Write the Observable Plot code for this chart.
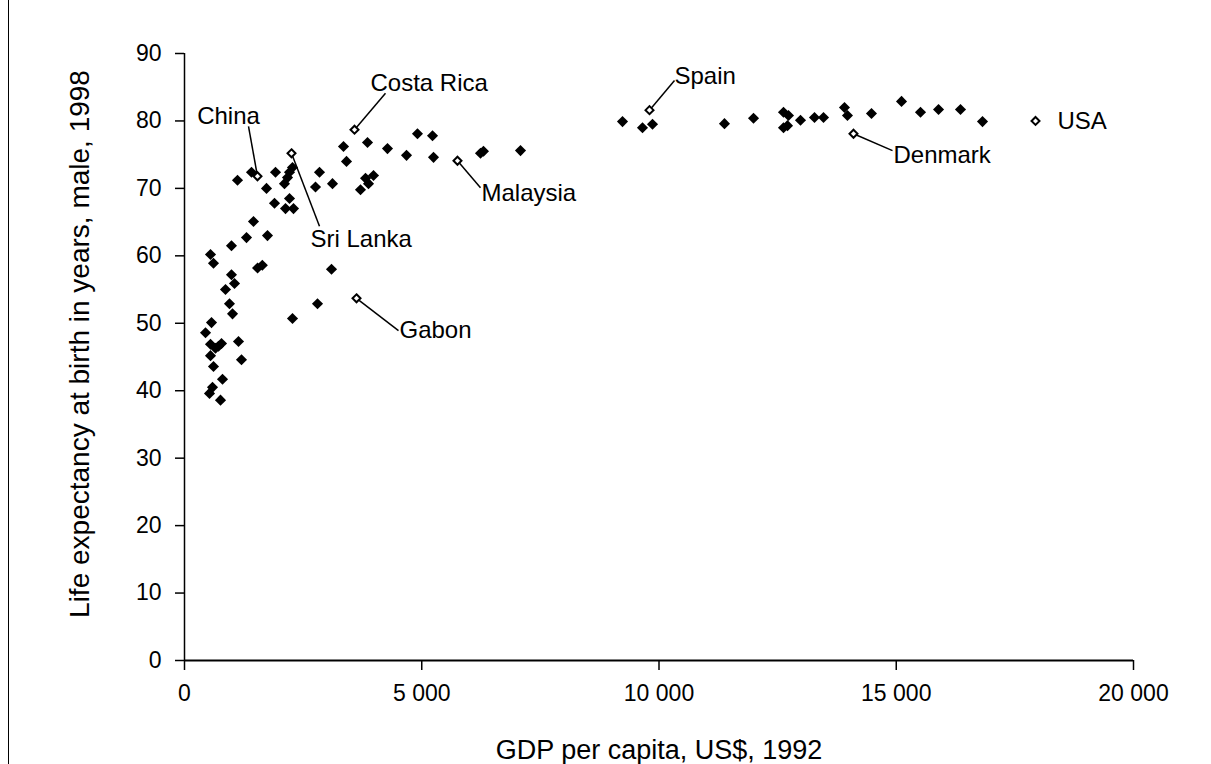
<!DOCTYPE html>
<html><head><meta charset="utf-8">
<script src="https://cdn.jsdelivr.net/npm/d3@7"></script>
<script src="https://cdn.jsdelivr.net/npm/@observablehq/plot@0.6"></script>
<style>
body{margin:0;background:#fff;}
#wrap{position:relative;width:1211px;height:764px;overflow:hidden;background:#fff;}
#frame{position:absolute;left:8px;top:0;width:1px;height:764px;background:#000;}
</style></head><body><div id="wrap"><div id="frame"></div></div>
<script>
// GDP per capita (US$, 1992) and male life expectancy (1998), unlabelled countries
const gdp = [443,569,548,717,780,653,1138,548,611,1201,801,590,527,759,2276,2803,3098,1540,1640,990,1054,864,948,1012,548,611,990,1307,1749,1454,1897,2213,2129,2297,1117,1412,1918,1728,2276,2213,2171,2107,2845,2761,3119,3351,3857,3414,4278,4679,4910,5227,5248,6238,6301,7081,3815,3983,3878,3709,
  9231,9652,9863,11380,11992,12624,12729,12708,12624,12982,13277,13467,13909,13972,14478,15111,15511,15891,16354,16818];
const life = [48.6,50.1,46.9,46.6,47.0,46.3,47.3,45.2,43.6,44.6,41.7,40.5,39.6,38.6,50.7,52.9,58.0,58.2,58.6,57.2,55.9,55.0,52.9,51.4,60.2,58.9,61.5,62.7,63.0,65.1,67.8,68.5,67.0,67.0,71.2,72.4,72.4,70.0,73.1,72.4,71.6,70.7,72.4,70.2,70.7,76.2,76.8,74.0,75.9,74.9,78.1,77.8,74.6,75.2,75.5,75.6,71.5,71.9,70.7,69.8,
  79.9,79.0,79.5,79.6,80.4,81.3,80.8,79.3,79.0,80.1,80.5,80.5,82.0,80.8,81.1,82.9,81.3,81.7,81.7,79.9];

// highlighted countries
const names = ["China","Sri Lanka","Costa Rica","Malaysia","Gabon","Spain","Denmark","USA"];
const namedGdp = [1538,2255,3583,5753,3625,9800,14099,17935];
const namedLife = [71.8,75.2,78.7,74.1,53.7,81.6,78.1,80.0];
// label placement (data units) and leader-line ends
const labelGdp = [927,2655,3920,6259,4531,10327,14942,18398];
const labelLife = [80.7,62.4,85.6,69.2,48.9,86.6,74.9,79.9];
const labelAnchor = ["middle","start","start","start","start","start","start","start"];
const leaderGdp = [1349,2845,4236,6238,4510,10327,14921,null];
const leaderLife = [79.2,64.4,84.1,70.1,48.9,86.0,75.6,null];

const xTicks = [0,5000,10000,15000,20000];
const yTicks = [0,10,20,30,40,50,60,70,80,90];
const xTitle = "GDP per capita, US$, 1992";
const yTitle = "Life expectancy at birth in years, male, 1998";

const points = gdp.map((g,i)=>({g, l: life[i]}));
const named = names.map((n,i)=>({n, g: namedGdp[i], l: namedLife[i], lg: labelGdp[i], ll: labelLife[i], a: labelAnchor[i], eg: leaderGdp[i], el: leaderLife[i]}));
const leaders = named.filter(d => d.eg != null);
const fmt = d => d3.format(",")(d).replace(/,/g, " ");

const chart = Plot.plot({
  width: 1211, height: 764,
  marginLeft: 184, marginRight: 78, marginTop: 53, marginBottom: 104,
  style: {fontFamily: "'Liberation Sans', Arial, sans-serif", fontSize: "23px", color: "#000", background: "transparent", overflow: "visible"},
  x: {domain: [0, 20000]},
  y: {domain: [0, 90]},
  marks: [
    Plot.axisY({ticks: yTicks, tickSize: 9, tickPadding: 14, label: null, strokeWidth: 1.5}),
    Plot.axisX({ticks: xTicks, tickSize: 10, tickPadding: 14, tickFormat: fmt, label: null, strokeWidth: 1.5}),
    Plot.ruleY([0], {stroke: "#000", strokeWidth: 2}),
    Plot.ruleX([0], {y1: 0, y2: 90, stroke: "#000", strokeWidth: 1.5}),
    Plot.link(leaders, {x1: "g", y1: "l", x2: "eg", y2: "el", stroke: "#000", strokeWidth: 1.5}),
    Plot.dot(points, {x: "g", y: "l", symbol: "diamond2", r: 5, fill: "#000", stroke: "none"}),
    Plot.dot(named, {x: "g", y: "l", symbol: "diamond2", r: 3.6, fill: "#fff", stroke: "#000", strokeWidth: 2}),
    Plot.text(named.filter(d => d.a === "start"), {x: "lg", y: "ll", text: "n", textAnchor: "start", fill: "#000", fontSize: 24}),
    Plot.text(named.filter(d => d.a === "middle"), {x: "lg", y: "ll", text: "n", textAnchor: "middle", fill: "#000", fontSize: 24}),
    Plot.text([xTitle], {frameAnchor: "bottom", dy: 90, lineAnchor: "middle", textAnchor: "middle", fill: "#000", fontSize: 27}),
    Plot.text([yTitle], {frameAnchor: "left", dx: -104, dy: -13, rotate: -90, textAnchor: "middle", lineAnchor: "middle", fill: "#000", fontSize: 28})
  ]
});
document.getElementById("wrap").appendChild(chart);
chart.style.position = "absolute";
chart.style.left = "0";
chart.style.top = "0";
</script>
</body></html>
